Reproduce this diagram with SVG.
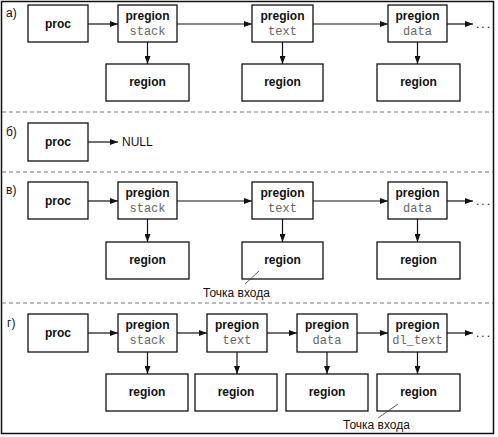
<svg xmlns="http://www.w3.org/2000/svg" width="498" height="437" viewBox="0 0 498 437">
<style>
.box{fill:#fff;stroke:#111;stroke-width:1.3}
.b{font-family:"Liberation Sans",Arial,sans-serif;font-weight:bold;font-size:12px;fill:#111;text-anchor:middle}
.m{font-family:"Liberation Mono","Courier New",monospace;font-size:12px;fill:#666;text-anchor:middle}
.t{font-family:"Liberation Sans",Arial,sans-serif;font-size:12px;fill:#111}
.c{stroke:#111;stroke-width:1.2;fill:none}
.sep{stroke:#777;stroke-width:1;stroke-dasharray:4 3}
.ld{stroke:#333;stroke-width:0.8}
</style>
<defs>
<marker id="ah" viewBox="0 0 8 6" refX="8" refY="3" markerWidth="8" markerHeight="6" markerUnits="userSpaceOnUse" orient="auto">
<path d="M0,0 L8,3 L0,6 Z" fill="#111"/>
</marker>
</defs>
<rect x="1.5" y="1.5" width="492" height="432" fill="#fff" stroke="#111" stroke-width="1.5"/>
<line class="sep" x1="2" y1="112" x2="493" y2="112"/>
<line class="sep" x1="2" y1="172" x2="493" y2="172"/>
<line class="sep" x1="2" y1="303" x2="493" y2="303"/>

<text class="t" x="6" y="17">а)</text>
<text class="t" x="6" y="136">б)</text>
<text class="t" x="6" y="194">в)</text>
<text class="t" x="7" y="327">г)</text>

<!-- section a -->
<g id="a-proc"><rect class="box" x="28" y="5" width="60" height="37"/><text class="b" x="58" y="28">proc</text></g>
<g id="a-pregion-stack"><rect class="box" x="118" y="5" width="59" height="37"/><text class="b" x="147.5" y="20">pregion</text><text class="m" x="147.5" y="35">stack</text></g>
<g id="a-pregion-text"><rect class="box" x="252" y="5" width="61" height="37"/><text class="b" x="282.5" y="20">pregion</text><text class="m" x="282.5" y="35">text</text></g>
<g id="a-pregion-data"><rect class="box" x="388" y="5" width="59" height="37"/><text class="b" x="417.5" y="20">pregion</text><text class="m" x="417.5" y="35">data</text></g>
<g id="a-region-1"><rect class="box" x="106" y="64" width="83" height="37"/><text class="b" x="147.5" y="86">region</text></g>
<g id="a-region-2"><rect class="box" x="242" y="64" width="81" height="37"/><text class="b" x="282.5" y="86">region</text></g>
<g id="a-region-3"><rect class="box" x="377" y="64" width="83" height="37"/><text class="b" x="418.5" y="86">region</text></g>
<text class="t" x="476" y="28" letter-spacing="2">...</text>

<!-- section b -->
<g id="b-proc"><rect class="box" x="28" y="123" width="60" height="38"/><text class="b" x="58" y="146">proc</text></g>
<text class="t" x="122" y="146">NULL</text>

<!-- section v -->
<g id="v-proc"><rect class="box" x="28" y="182" width="60" height="37"/><text class="b" x="58" y="205">proc</text></g>
<g id="v-pregion-stack"><rect class="box" x="118" y="182" width="59" height="37"/><text class="b" x="147.5" y="197">pregion</text><text class="m" x="147.5" y="212">stack</text></g>
<g id="v-pregion-text"><rect class="box" x="252" y="182" width="61" height="37"/><text class="b" x="282.5" y="197">pregion</text><text class="m" x="282.5" y="212">text</text></g>
<g id="v-pregion-data"><rect class="box" x="388" y="182" width="59" height="37"/><text class="b" x="417.5" y="197">pregion</text><text class="m" x="417.5" y="212">data</text></g>
<g id="v-region-1"><rect class="box" x="106" y="242" width="83" height="37"/><text class="b" x="147.5" y="264">region</text></g>
<g id="v-region-2"><rect class="box" x="242" y="242" width="81" height="37"/><text class="b" x="282.5" y="264">region</text></g>
<g id="v-region-3"><rect class="box" x="377" y="242" width="83" height="37"/><text class="b" x="418.5" y="264">region</text></g>
<text class="t" x="476" y="205" letter-spacing="2">...</text>
<text class="t" x="203" y="297">Точка входа</text>
<line class="ld" x1="245" y1="284" x2="259" y2="271"/>

<!-- section g -->
<g id="g-proc"><rect class="box" x="28" y="314" width="60" height="38"/><text class="b" x="58" y="337">proc</text></g>
<g id="g-pregion-stack"><rect class="box" x="118" y="314" width="59" height="38"/><text class="b" x="147.5" y="329">pregion</text><text class="m" x="147.5" y="344">stack</text></g>
<g id="g-pregion-text"><rect class="box" x="207" y="314" width="60" height="38"/><text class="b" x="237" y="329">pregion</text><text class="m" x="237" y="344">text</text></g>
<g id="g-pregion-data"><rect class="box" x="297" y="314" width="60" height="38"/><text class="b" x="327" y="329">pregion</text><text class="m" x="327" y="344">data</text></g>
<g id="g-pregion-dltext"><rect class="box" x="388" y="314" width="59" height="38"/><text class="b" x="417.5" y="329">pregion</text><text class="m" x="417.5" y="344">dl_text</text></g>
<g id="g-region-1"><rect class="box" x="106" y="374" width="82" height="37"/><text class="b" x="147" y="396">region</text></g>
<g id="g-region-2"><rect class="box" x="195" y="374" width="82" height="37"/><text class="b" x="236" y="396">region</text></g>
<g id="g-region-3"><rect class="box" x="286" y="374" width="82" height="37"/><text class="b" x="327" y="396">region</text></g>
<g id="g-region-4"><rect class="box" x="377" y="374" width="83" height="37"/><text class="b" x="418.5" y="396">region</text></g>
<text class="t" x="476" y="337" letter-spacing="2">...</text>
<text class="t" x="343" y="429">Точка входа</text>
<line class="ld" x1="378" y1="418" x2="398" y2="404"/>

<g id="connectors">
<line class="c" x1="88" y1="24" x2="118" y2="24" marker-end="url(#ah)"/>
<line class="c" x1="177" y1="24" x2="252" y2="24" marker-end="url(#ah)"/>
<line class="c" x1="313" y1="24" x2="388" y2="24" marker-end="url(#ah)"/>
<line class="c" x1="447" y1="24" x2="473" y2="24" marker-end="url(#ah)"/>
<line class="c" x1="147.5" y1="42" x2="147.5" y2="64" marker-end="url(#ah)"/>
<line class="c" x1="282.5" y1="42" x2="282.5" y2="64" marker-end="url(#ah)"/>
<line class="c" x1="417.5" y1="42" x2="417.5" y2="64" marker-end="url(#ah)"/>
<line class="c" x1="88" y1="142" x2="118" y2="142" marker-end="url(#ah)"/>
<line class="c" x1="88" y1="201" x2="118" y2="201" marker-end="url(#ah)"/>
<line class="c" x1="177" y1="201" x2="252" y2="201" marker-end="url(#ah)"/>
<line class="c" x1="313" y1="201" x2="388" y2="201" marker-end="url(#ah)"/>
<line class="c" x1="447" y1="201" x2="473" y2="201" marker-end="url(#ah)"/>
<line class="c" x1="147.5" y1="219" x2="147.5" y2="242" marker-end="url(#ah)"/>
<line class="c" x1="282.5" y1="219" x2="282.5" y2="242" marker-end="url(#ah)"/>
<line class="c" x1="417.5" y1="219" x2="417.5" y2="242" marker-end="url(#ah)"/>
<line class="c" x1="88" y1="333" x2="118" y2="333" marker-end="url(#ah)"/>
<line class="c" x1="177" y1="333" x2="207" y2="333" marker-end="url(#ah)"/>
<line class="c" x1="267" y1="333" x2="297" y2="333" marker-end="url(#ah)"/>
<line class="c" x1="357" y1="333" x2="388" y2="333" marker-end="url(#ah)"/>
<line class="c" x1="447" y1="333" x2="473" y2="333" marker-end="url(#ah)"/>
<line class="c" x1="147.5" y1="352" x2="147.5" y2="374" marker-end="url(#ah)"/>
<line class="c" x1="237" y1="352" x2="237" y2="374" marker-end="url(#ah)"/>
<line class="c" x1="327" y1="352" x2="327" y2="374" marker-end="url(#ah)"/>
<line class="c" x1="417.5" y1="352" x2="417.5" y2="374" marker-end="url(#ah)"/>
</g>
</svg>
